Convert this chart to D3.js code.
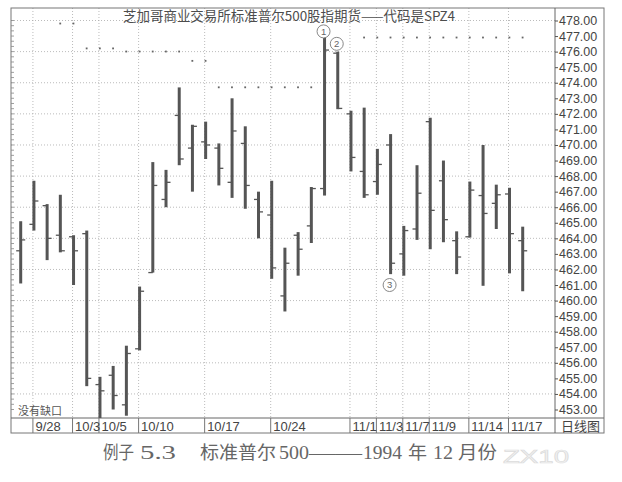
<!DOCTYPE html>
<html>
<head>
<meta charset="utf-8">
<script src="https://cdn.jsdelivr.net/npm/d3@7"></script>
<style>
  html, body { margin: 0; padding: 0; background: #fff; }
  svg { display: block; }
</style>
</head>
<body>
<svg id="chart"></svg>
<script>
// trading days, 9/27 .. 11/18 1994
const dates = [
    "9/27", "9/28", "9/29", "9/30",
    "10/3", "10/4", "10/5", "10/6", "10/7",
    "10/10", "10/11", "10/12", "10/13", "10/14",
    "10/17", "10/18", "10/19", "10/20", "10/21",
    "10/24", "10/25", "10/26", "10/27", "10/28",
    "10/31", "11/1", "11/2", "11/3", "11/4",
    "11/7", "11/8", "11/9", "11/10", "11/11",
    "11/14", "11/15", "11/16", "11/17", "11/18"
];

const opens = [463.2, 464.9, 466.1, 464.2, 464.1, 464.3, 454.6, 455.2, 453.3, 456.9,
    461.8, 466.5, 471.9, 469.8, 470.2, 469.8, 467.6, 470.1, 466.5, 465.5,
    460.3, 464.2, 464.8, 467.2, 475.9, 472.0, 468.3, 467.65, 470.0, 463.0,
    464.6, 471.5, 467.7, 463.85, 464.1, 466.75, 466.25, 466.85, 463.85];
const highs = [465.1, 467.7, 466.2, 466.8, 464.2, 464.5, 455.1, 455.8, 457.1, 460.9,
    468.9, 468.4, 473.7, 471.3, 471.5, 470.1, 473.0, 471.2, 467.0, 467.7,
    463.4, 464.4, 467.3, 476.9, 476.0, 472.2, 472.4, 469.75, 470.7, 464.8,
    468.7, 471.75, 469.0, 464.45, 467.65, 470.0, 467.45, 467.25, 464.75];
const lows = [461.1, 464.5, 462.6, 463.1, 461.0, 454.5, 452.3, 453.0, 452.6, 456.8,
    461.8, 466.0, 468.7, 467.0, 469.1, 467.4, 466.6, 465.9, 464.0, 461.4,
    459.3, 461.6, 463.7, 466.75, 472.3, 468.3, 466.6, 466.8, 461.7, 461.6,
    463.9, 463.3, 463.75, 461.7, 464.05, 460.95, 464.6, 461.75, 460.6];
const closes = [463.9, 466.4, 464.0, 463.2, 463.2, 455.0, 454.2, 453.9, 456.6, 460.6,
    467.4, 467.6, 469.1, 471.2, 470.0, 468.5, 470.9, 467.4, 465.7, 462.1,
    462.4, 463.3, 467.2, 476.1, 472.35, 469.2, 466.8, 468.75, 462.4, 464.5,
    466.9, 465.8, 465.2, 462.8, 467.1, 465.6, 466.8, 464.3, 463.2];

// dotted level markers above the bars (null = none)
const levels = [null, null, null, 477.8, 477.8, 476.2, 476.2, 476.2, 476.0, 476.0,
    476.0, 476.0, 476.0, 475.4, 475.4, 473.7, 473.7, 473.7, 473.7, 473.7,
    473.7, 473.7, 473.7, null, null, null, 476.9, 476.9, 476.9, 476.9,
    476.9, 476.9, 476.9, 476.9, 476.9, 476.9, 476.9, 476.9, 476.9];

const axisDates = ["9/28", "10/3", "10/5", "10/10", "10/17", "10/24",
    "11/1", "11/3", "11/7", "11/9", "11/14", "11/17"];

const notes = [
    { label: "1", date: "10/28", price: 477.3 },
    { label: "2", date: "10/31", price: 476.5 },
    { label: "3", date: "11/4", price: 461.0 }
];

const title = "芝加哥商业交易所标准普尔500股指期货——代码是SPZ4";
// caption pieces, typeset wide like the book page
const captionParts = [
    { t: "例子", x: 103, w: 31 },
    { t: "5.3", x: 140, w: 36 },
    { t: "标准普尔", x: 200, w: 76 },
    { t: "500", x: 279, w: 30 },
    { t: "——", x: 309, w: 53 },
    { t: "1994", x: 363, w: 39 },
    { t: "年", x: 408, w: 19 },
    { t: "12", x: 433, w: 20 },
    { t: "月份", x: 458, w: 39 }
];

const width = 622, height = 482;
const pLeft = 11, pRight = 555, pTop = 8, pBottom = 418, bandBottom = 433, frameRight = 604;
const ink = "#555";

const svg = d3.select("#chart")
    .attr("width", width)
    .attr("height", height)
    .style("font-family", "'Liberation Sans', Arial, sans-serif");

const x = d3.scalePoint()
    .domain(dates)
    .range([20.7, 522.7]);

const y = d3.scaleLinear()
    .domain([478, 453])
    .range([20.5, 409.5]);

svg.append("clipPath").attr("id", "plot-clip")
    .append("rect")
    .attr("x", pLeft).attr("y", pTop)
    .attr("width", pRight - pLeft).attr("height", pBottom - pTop);

// grid
const grid = svg.append("g")
    .attr("stroke", "#aaa")
    .attr("stroke-width", 0.8)
    .attr("stroke-dasharray", "1,2");

grid.selectAll("line.h")
    .data(d3.range(454, 479, 2))
    .enter().append("line")
    .attr("class", "h")
    .attr("x1", pLeft).attr("x2", pRight)
    .attr("y1", d => y(d)).attr("y2", d => y(d));

grid.selectAll("line.v")
    .data(axisDates)
    .enter().append("line")
    .attr("class", "v")
    .attr("x1", d => x(d) - 1).attr("x2", d => x(d) - 1)
    .attr("y1", pTop).attr("y2", pBottom);

// frame
svg.append("rect")
    .attr("x", pLeft).attr("y", pTop)
    .attr("width", frameRight - pLeft).attr("height", bandBottom - pTop)
    .attr("fill", "none").attr("stroke", "#777").attr("stroke-width", 1);

svg.append("line")
    .attr("x1", pRight).attr("x2", pRight)
    .attr("y1", pTop).attr("y2", bandBottom)
    .attr("stroke", "#666");

svg.append("line")
    .attr("x1", pLeft).attr("x2", frameRight)
    .attr("y1", pBottom).attr("y2", pBottom)
    .attr("stroke", "#666");

// small ticks on the left edge
svg.append("g")
    .attr("stroke", "#888").attr("stroke-width", 0.8)
    .selectAll("line")
    .data(d3.range(453, 478.01, 1 / 3))
    .enter().append("line")
    .attr("x1", pLeft).attr("x2", pLeft + 3)
    .attr("y1", d => y(d)).attr("y2", d => y(d));

// right price axis
const axis = svg.append("g")
    .attr("transform", `translate(${pRight},0)`)
    .call(d3.axisRight(y)
        .tickValues(d3.range(453, 479))
        .tickFormat(d3.format(".2f"))
        .tickSize(3)
        .tickPadding(1));
axis.select(".domain").remove();
axis.selectAll("line").attr("stroke", "#555");
axis.selectAll("text")
    .attr("fill", "#444")
    .style("font-size", "12.5px")
    .style("font-family", "'Liberation Sans', Arial, sans-serif");

// date band
const band = svg.append("g");
band.selectAll("line")
    .data(axisDates)
    .enter().append("line")
    .attr("x1", d => x(d) - 1).attr("x2", d => x(d) - 1)
    .attr("y1", pBottom).attr("y2", bandBottom)
    .attr("stroke", "#777");
band.selectAll("text")
    .data(axisDates)
    .enter().append("text")
    .attr("x", d => x(d) + 1.5)
    .attr("y", bandBottom - 2.5)
    .attr("fill", "#444")
    .style("font-size", "13px")
    .text(d => d);

svg.append("text")
    .attr("x", 561).attr("y", bandBottom - 2.5)
    .attr("fill", "#444")
    .style("font-family", "'Noto Sans CJK SC', sans-serif")
    .style("font-size", "13px")
    .text("日线图");

// level dots
const ohlc = dates.map((d, i) => ({ d, o: opens[i], h: highs[i], l: lows[i], c: closes[i], lv: levels[i] }));

svg.append("g")
    .attr("fill", "#666")
    .selectAll("rect")
    .data(ohlc.filter(e => e.lv !== null))
    .enter().append("rect")
    .attr("x", e => x(e.d) - 1).attr("y", e => y(e.lv) - 1)
    .attr("width", 1.8).attr("height", 1.8);

// OHLC bars
const bars = svg.append("g")
    .attr("clip-path", "url(#plot-clip)")
    .attr("stroke", ink);

bars.selectAll("line.hl")
    .data(ohlc)
    .enter().append("line")
    .attr("class", "hl")
    .attr("x1", e => x(e.d)).attr("x2", e => x(e.d))
    .attr("y1", e => y(e.h)).attr("y2", e => y(e.l))
    .attr("stroke-width", 3);

bars.selectAll("line.o")
    .data(ohlc)
    .enter().append("line")
    .attr("class", "o")
    .attr("x1", e => x(e.d) - 4.5).attr("x2", e => x(e.d))
    .attr("y1", e => y(e.o)).attr("y2", e => y(e.o))
    .attr("stroke-width", 1.3);

bars.selectAll("line.c")
    .data(ohlc)
    .enter().append("line")
    .attr("class", "c")
    .attr("x1", e => x(e.d)).attr("x2", e => x(e.d) + 4.5)
    .attr("y1", e => y(e.c)).attr("y2", e => y(e.c))
    .attr("stroke-width", 1.3);

// circled notes
const note = svg.append("g")
    .selectAll("g")
    .data(notes)
    .enter().append("g")
    .attr("transform", n => `translate(${x(n.date) - 1},${y(n.price)})`);
note.append("circle")
    .attr("r", 6.5)
    .attr("fill", "#fff")
    .attr("stroke", "#888");
note.append("text")
    .attr("text-anchor", "middle")
    .attr("dy", "0.35em")
    .attr("fill", "#666")
    .style("font-size", "9.5px")
    .text(n => n.label);

// texts
svg.append("text")
    .attr("x", 123).attr("y", 20.5)
    .attr("textLength", 332)
    .attr("lengthAdjust", "spacingAndGlyphs")
    .attr("fill", "#4d4d4d")
    .style("font-family", "'Noto Sans CJK SC', sans-serif")
    .style("font-size", "13.3px")
    .text(title);

svg.append("text")
    .attr("x", 18).attr("y", 415)
    .attr("fill", "#555")
    .style("font-family", "'Noto Sans CJK SC', sans-serif")
    .style("font-size", "11px")
    .text("没有缺口");

svg.append("text")
    .attr("y", 459)
    .attr("fill", "#666")
    .style("font-family", "'Liberation Serif', 'Noto Sans CJK SC', serif")
    .style("font-size", "18px")
    .selectAll("tspan")
    .data(captionParts)
    .enter().append("tspan")
    .attr("x", p => p.x)
    .attr("textLength", p => p.w)
    .attr("lengthAdjust", "spacingAndGlyphs")
    .text(p => p.t);

svg.append("text")
    .attr("x", 503).attr("y", 463)
    .attr("textLength", 66)
    .attr("lengthAdjust", "spacingAndGlyphs")
    .attr("fill", "#f2f2f2")
    .attr("stroke", "#dcdcdc")
    .attr("stroke-width", 0.7)
    .style("font-size", "19px")
    .text("ZX10");
</script>
</body>
</html>
